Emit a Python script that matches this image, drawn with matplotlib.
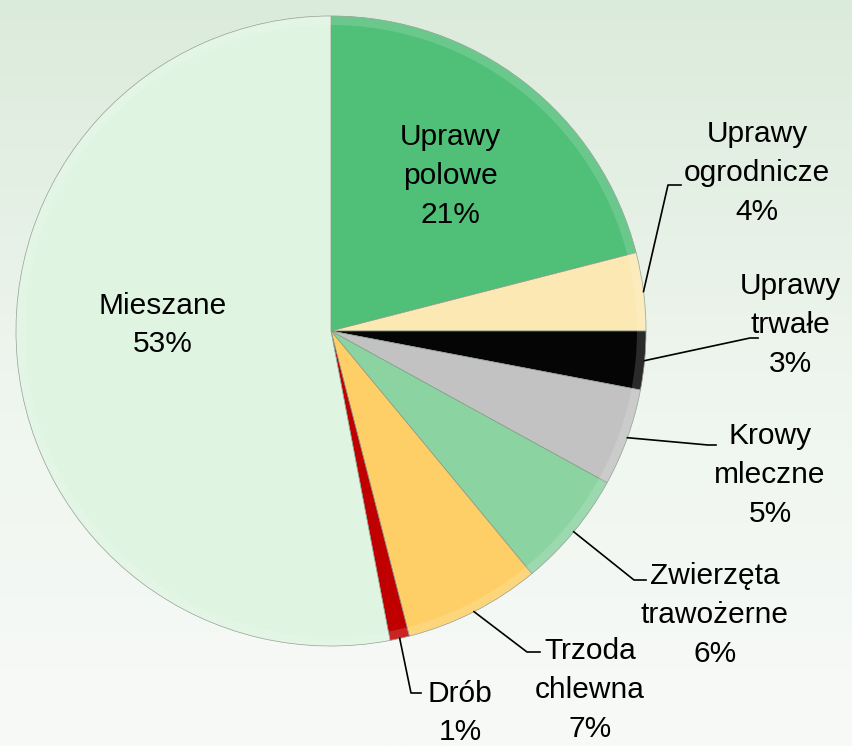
import numpy as np
import matplotlib
matplotlib.use("Agg")
import matplotlib.pyplot as plt
from matplotlib.colors import LinearSegmentedColormap

plt.rcParams['font.family'] = ['Liberation Sans', 'DejaVu Sans']

# data, clockwise from 12 o'clock
labels = ["Uprawy\npolowe", "Uprawy\nogrodnicze", "Uprawy\ntrwałe", "Krowy\nmleczne",
          "Zwierzęta\ntrawożerne", "Trzoda\nchlewna", "Drób", "Mieszane"]
shares = [21, 4, 3, 5, 6, 7, 1, 53]
colors = ["#50BF78", "#FCE8B2", "#050505", "#C2C2C2",
          "#8BD3A0", "#FDCF66", "#C00000", "#DFF4E1"]

# label placement (pixels, top-left origin) and leader elbow
label_pos = {
    0: (450, 176),
    1: (757, 173),
    2: (790, 325),
    3: (770, 475),
    4: (715, 615),
    5: (590, 690),
    6: (460, 713),
    7: (163, 325),
}
elbows = {
    1: [(668, 185), (681, 185)],
    2: [(750, 338), (758, 338)],
    3: [(708, 445), (716, 445)],
    4: [(634, 580), (646, 580)],
    5: [(527, 652), (540, 652)],
    6: [(411, 693), (421, 693)],
}

W, H = 853, 746
cx, cy, R = 331, 331, 315

fig = plt.figure(figsize=(W / 100, H / 100), dpi=100)
ax = fig.add_axes([0, 0, 1, 1])

# background gradient
bg = LinearSegmentedColormap.from_list("bg", ["#DBEBDB", "#EEF5EE", "#F8FAF8"])
grad = np.linspace(0, 1, 256).reshape(-1, 1)
ax.imshow(grad, cmap=bg, extent=[0, W, H, 0], aspect="auto", zorder=0)

# pie (y axis inverted, so counterclock in data runs clockwise on screen)
wedges, _ = ax.pie(shares, colors=colors, startangle=-90, counterclock=True,
                   center=(cx, cy), radius=R, frame=True,
                   wedgeprops=dict(edgecolor="#8A9A8A", linewidth=0.5, zorder=2))
ax.set_xlim(0, W)
ax.set_ylim(H, 0)
ax.set_aspect("equal")
ax.axis("off")

# soft rim highlight
for w in wedges:
    ax.add_patch(matplotlib.patches.Wedge((cx, cy), R, w.theta1, w.theta2, width=9,
                                          facecolor="white", alpha=0.15, edgecolor="none",
                                          zorder=3))

fs = 21.5
for i, (lab, s) in enumerate(zip(labels, shares)):
    x, y = label_pos[i]
    ax.text(x, y, f"{lab}\n{s}%", ha="center", va="center", fontsize=fs,
            linespacing=1.5, color="black", zorder=5)
    if i in elbows:
        w = wedges[i]
        ang = np.deg2rad((w.theta1 + w.theta2) / 2)
        px, py = cx + R * np.cos(ang), cy + R * np.sin(ang)
        xs = [px] + [p[0] for p in elbows[i]]
        ys = [py] + [p[1] for p in elbows[i]]
        ax.plot(xs, ys, color="black", lw=1.2, zorder=4)

fig.savefig("out.png", dpi=100)
